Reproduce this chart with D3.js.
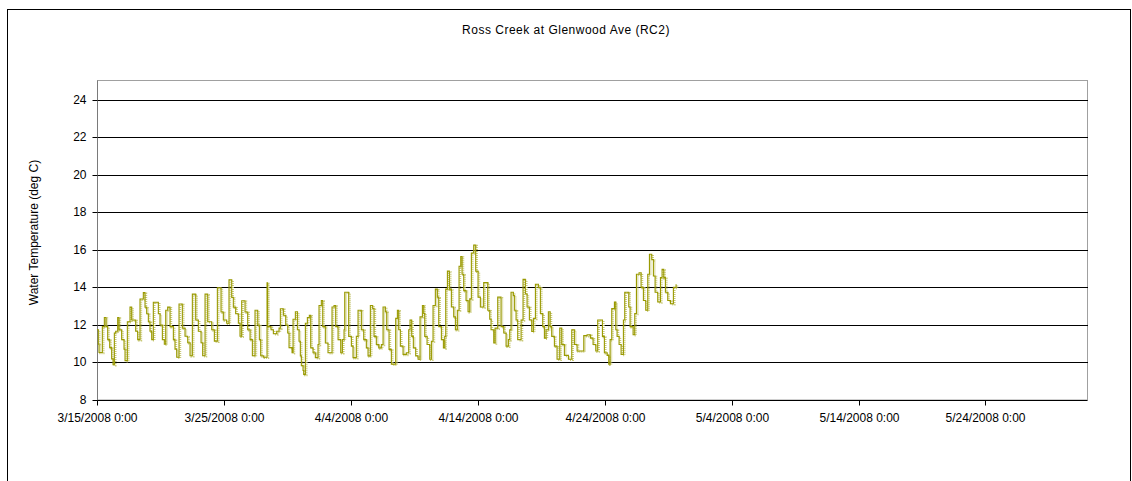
<!DOCTYPE html>
<html>
<head>
<meta charset="utf-8">
<script src="https://cdn.jsdelivr.net/npm/d3@7"></script>
<style>
  html, body { margin: 0; padding: 0; background: #fff; }
  svg { display: block; font-family: "Liberation Sans", Arial, sans-serif; }
</style>
</head>
<body>
<svg id="chart" width="1132" height="481"></svg>
<script>
// Logger record: hours elapsed since 3/15/2008 0:00 and water temperature (deg C)
const readingHours = [
  0, 2.5, 3.8, 10.1, 13.9, 17.0, 20.2, 24.0, 27.7, 30.3, 32.8, 35.3, 39.1, 41.6, 46.6, 51.1, 53.0,
  57.4, 62.4, 65.6, 73.1, 76.9, 81.3, 87.6, 90.8, 93.9, 97.1, 100.2, 103.4, 106.5, 116.0, 119.1,
  123.6, 127.3, 129.9, 133.6, 138.1, 144.4, 147.5, 150.7, 155.1, 161.4, 166.4, 171.5, 175.9, 180.3,
  186.6, 191.6, 196.7, 199.8, 204.3, 209.3, 216.9, 221.9, 227.6, 234.5, 238.9, 245.2, 249.6, 254.7,
  257.8, 262.2, 267.3, 270.4, 273.6, 279.9, 284.9, 289.4, 293.8, 298.8, 303.9, 307.0, 309.5, 314.6,
  321.5, 322.4, 329.1, 333.5, 339.8, 344.2, 346.7, 352.4, 356.8, 360.6, 363.1,
  368.8, 370.7, 375.1, 378.9, 382.0, 384.5, 386.4, 389.6, 390.8, 394.0, 397.8, 401.5, 404.1, 408.5,
  412.9, 417.9, 419.8, 424.2, 426.8, 431.8, 436.8, 444.4, 448.2, 451.3, 455.8, 460.8, 464.0, 467.1,
  468.4, 475.9, 481.0, 484.1, 490.4, 493.6, 499.9, 504.3, 509.3, 512.5, 516.9, 521.3, 523.8, 528.2,
  532.7, 537.7, 540.9, 545.3, 547.8, 552.2, 556.6, 564.8, 568.0, 570.5, 573.6, 578.7, 585.0, 589.4,
  591.9, 595.1, 598.2, 602.6, 607.1, 610.8, 615.3, 617.8, 619.7, 624.1, 629.1, 632.3, 635.4, 639.8,
  643.6, 646.2, 651.2, 655.0, 657.5, 659.4, 662.6, 666.3, 670.1, 674.5, 677.7, 681.4, 684.6, 687.8,
  690.3, 693.4, 697.8, 701.6, 704.8, 707.9, 712.3, 716.1, 720.5, 724.9,
  731.2, 738.8, 742.6, 745.1, 750.2, 752.7, 757.7, 764.0, 769.1, 773.5, 777.9, 780.4, 782.9, 787.3,
  789.2, 792.4, 795.5, 801.9, 805.6, 810.0, 813.2, 817.6, 822.0, 825.2, 829.0, 834.6, 838.4, 842.8,
  846.0, 849.1, 853.5, 856.7, 859.8, 864.9, 869.9, 875.0, 878.8, 883.8, 891.4, 897.7, 902.7, 907.8,
  915.3, 920.4, 926.7, 933.0, 938.0, 943.1, 946.8, 953.1, 955.7, 959.4, 964.5, 967.6, 970.2, 973.3,
  978.4, 980.9, 983.4, 987.2, 991.0, 995.4, 997.9, 1003.6, 1005.5, 1008.0, 1013.7, 1016.8, 1020.0,
  1025.0, 1028.8, 1033.2, 1037.6, 1041.4, 1044.6, 1049.0, 1052.1, 1055.3, 1060.3, 1065.4, 1068.5,
  1071.7, 1074.8, 1079.2, 1084.3, 1089.9, 1095.0
];
const waterTemp = [
  11.74, 10.97, 10.53, 11.91, 12.40, 11.91, 11.22, 10.79, 10.19, 9.88, 11.57, 11.66, 12.40, 11.74, 11.22, 10.71, 10.10,
  12.17, 12.95, 12.26, 11.66, 11.22, 13.38, 13.72, 12.95, 12.60, 12.17, 11.66, 11.22, 13.21, 12.60, 12.00,
  11.22, 10.97, 12.78, 12.95, 11.91, 11.22, 10.71, 10.28, 13.12, 11.83, 11.40, 11.05, 10.36, 13.64,
  12.26, 11.66, 11.05, 10.36, 13.64, 12.17, 11.74, 11.14, 13.98, 12.69, 12.26, 12.09, 14.41, 13.47,
  12.95, 12.60, 12.09, 11.40, 13.29, 12.69, 11.74, 11.22, 10.36, 12.78, 12.00, 11.22, 10.36, 10.28,
  14.24, 11.91, 11.74, 11.53, 11.66, 11.83, 12.86, 12.52, 12.00, 11.57, 10.79,
  10.52, 12.30, 12.70, 11.74, 11.13, 10.35, 9.83, 9.57, 9.36, 12.09, 12.40, 12.52, 10.78, 10.52,
  10.26, 10.96, 13.04, 13.30, 11.91, 11.04, 10.52, 12.96, 13.04, 11.91, 11.22, 10.52, 11.22, 11.74,
  13.74, 11.39, 10.87, 10.26, 11.39, 12.78, 11.74, 11.22, 10.78, 10.35, 13.04, 12.87, 11.39, 10.96,
  10.78, 10.96, 12.96, 12.70, 11.74, 10.70, 9.91, 12.35, 12.78, 11.74, 10.87, 10.43, 10.52, 11.74,
  12.26, 11.39, 10.78, 10.35, 10.17, 12.43, 13.04, 12.61, 11.39, 10.96, 10.17, 11.13, 13.04, 13.91,
  13.48, 11.91, 11.22, 10.78, 11.39, 13.91, 14.87, 13.91, 12.96, 12.43, 11.74, 12.78, 15.13, 15.65,
  14.70, 13.83, 13.30, 12.70, 13.39, 15.83, 16.26, 14.87, 13.48, 12.96,
  14.26, 12.78, 12.30, 11.74, 11.04, 11.83, 13.48, 11.91, 11.57, 10.87, 11.22, 11.74, 13.74, 13.57,
  12.78, 12.26, 11.22, 12.26, 14.43, 13.65, 12.96, 12.26, 11.65, 12.35, 14.17, 14.00, 12.61, 11.91,
  11.30, 11.74, 12.70, 11.91, 11.39, 10.87, 10.17, 11.83, 10.96, 10.38, 10.17, 11.74, 10.96, 10.61,
  10.61, 11.43, 11.48, 11.30, 10.96, 10.61, 12.26, 12.26, 11.39, 10.52, 10.38, 9.91, 11.22, 12.87,
  13.22, 11.74, 11.39, 10.96, 10.43, 12.26, 13.74, 13.74, 12.96, 11.91, 11.48, 12.61, 14.70,
  14.78, 14.00, 13.30, 12.78, 14.70, 15.77, 15.48, 14.61, 13.74, 13.22, 14.52, 14.96,
  14.52, 13.74, 13.30, 13.13, 14.00, 14.17
];

// Axis settings
const xStart = "2008-03-15", xEnd = "2008-06-01";
const xTickDates = ["2008-03-15", "2008-03-25", "2008-04-04", "2008-04-14", "2008-04-24", "2008-05-04", "2008-05-14", "2008-05-24"];
const yTicks = [8, 10, 12, 14, 16, 18, 20, 22, 24];
const yRange = [8, 25];
const chartTitle = "Ross Creek at Glenwood Ave (RC2)";
const yTitle = "Water Temperature (deg C)";

const svg = d3.select("#chart");
const plot = { left: 97, right: 1087, top: 81, bottom: 400 };

const parseDay = d3.utcParse("%Y-%m-%d");
const t0 = parseDay(xStart);
const x = d3.scaleUtc().domain([t0, parseDay(xEnd)]).range([plot.left, plot.right]);
const y = d3.scaleLinear().domain(yRange).range([plot.bottom, plot.top]);

const series = readingHours.map((h, i) => ({ t: new Date(t0.getTime() + h * 3600e3), v: waterTemp[i] }));

// Outer chart frame
svg.append("rect")
  .attr("x", 7.5).attr("y", 9.5).attr("width", 1123).attr("height", 472)
  .attr("fill", "#fff").attr("stroke", "#000").attr("stroke-width", 1);

// Plot-area frame
svg.append("rect")
  .attr("x", plot.left + 0.5).attr("y", plot.top - 0.5)
  .attr("width", plot.right - plot.left).attr("height", plot.bottom - plot.top + 0.5)
  .attr("fill", "#fff").attr("stroke", "#a0a0a0").attr("stroke-width", 1);

// Horizontal gridlines
svg.append("g")
  .selectAll("line")
  .data(yTicks.filter(d => d > yRange[0]))
  .join("line")
  .attr("x1", plot.left).attr("x2", plot.right + 1)
  .attr("y1", d => Math.round(y(d)) + 0.5).attr("y2", d => Math.round(y(d)) + 0.5)
  .attr("stroke", "#000").attr("stroke-width", 1);

// Y axis
const yAxis = d3.axisLeft(y).tickValues(yTicks).tickSize(5).tickPadding(6).tickFormat(d3.format("d"));
const gy = svg.append("g")
  .attr("transform", `translate(${plot.left + 0.5},0.5)`)
  .call(yAxis);
gy.select(".domain").attr("stroke", "#7a7a7a").attr("d", `M0,${plot.top - 1}V${plot.bottom}`);
gy.selectAll(".tick line").attr("stroke", "#000");
gy.selectAll(".tick").attr("transform", d => `translate(0,${Math.round(y(d))})`);
gy.selectAll("text").attr("font-size", 12).attr("fill", "#000")
  .attr("font-family", "Liberation Sans, Arial, sans-serif");

// X axis
const fmtTick = d3.utcFormat("%-m/%-d/%Y 0:00");
const xAxis = d3.axisBottom(x).tickValues(xTickDates.map(parseDay)).tickSize(5).tickPadding(8).tickFormat(fmtTick);
const gx = svg.append("g")
  .attr("transform", `translate(0.5,${plot.bottom + 0.5})`)
  .call(xAxis);
gx.select(".domain").attr("stroke", "#000").attr("d", `M${plot.left},0H${plot.right}`);
gx.selectAll(".tick").attr("transform", d => `translate(${Math.round(x(d))},0)`);
gx.selectAll(".tick line").attr("stroke", "#000");
gx.selectAll("text").attr("font-size", 12).attr("fill", "#000")
  .attr("font-family", "Liberation Sans, Arial, sans-serif");

// Temperature trace, stepped between readings
const line = d3.line().curve(d3.curveStepAfter).x(d => x(d.t)).y(d => y(d.v));
svg.append("path")
  .datum(series)
  .attr("d", line)
  .attr("transform", "translate(1.2,0.8)")
  .attr("fill", "none")
  .attr("stroke", "#c9c978")
  .attr("stroke-width", 2)
  .attr("stroke-dasharray", "1,1");
svg.append("path")
  .datum(series)
  .attr("d", line)
  .attr("fill", "none")
  .attr("stroke", "#999900")
  .attr("stroke-width", 1.1);

// Titles
svg.append("text")
  .attr("x", 566).attr("y", 34)
  .attr("text-anchor", "middle")
  .attr("font-size", 12)
  .attr("letter-spacing", 0.5)
  .attr("fill", "#000")
  .text(chartTitle);

svg.append("text")
  .attr("transform", `translate(38,${(plot.top + plot.bottom) / 2 - 8}) rotate(-90)`)
  .attr("text-anchor", "middle")
  .attr("font-size", 12)
  .attr("fill", "#000")
  .text(yTitle);
</script>
</body>
</html>
